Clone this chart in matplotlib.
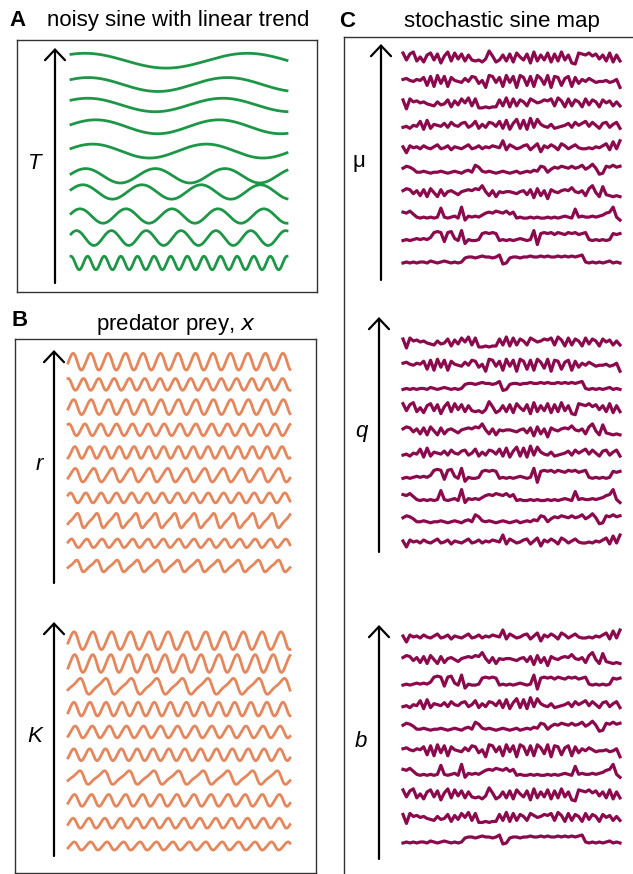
import numpy as np
import matplotlib.pyplot as plt

plt.rcParams['font.family'] = ['Liberation Sans', 'DejaVu Sans']

#%% data
# A: noisy sine with linear trend, rows top -> bottom
a_cycles = [1.33, 1.55, 1.6, 1.75, 1.9, 3.1, 3.65, 4.7, 6.2, 13.0]
a_phase = [0.164, 0.127, 0.126, 0.05, 0.06, 0.04, 0.05, 0.053, 0.09, 0.25]
a_amp = [0.33, 0.31, 0.3, 0.31, 0.31, 0.32, 0.32, 0.32, 0.33, 0.3]
a_mean = [0, -0.06, 0.03, 0.06, -0.02, -0.12, 0.16, 0.09, 0.11, 0]

# B: predator prey, x  (r rows then K rows, top -> bottom)
r_cycles = [12.7, 14.5, 12.7, 14.0, 15.0, 12.0, 14.5, 11.4, 14.5, 11.0]
r_phase = [0.97, 0.25, 0.95, 0.2, 0.8, 0.9, 0.1, 0.85, 0.05, 0.9]
r_amp = [0.37, 0.26, 0.33, 0.26, 0.26, 0.3, 0.22, 0.32, 0.19, 0.26]
r_skew = [0.1, 0.1, 0.15, 0.1, 0.1, 0.3, 0.1, 0.6, 0.2, 0.6]

k_cycles = [11.8, 12.3, 8.7, 13.8, 13.0, 14.0, 9.0, 13.0, 14.0, 13.5]
k_phase = [0.95, 0.9, 0.85, 0.9, 0.85, 0.9, 0.85, 0.9, 0.95, 0.9]
k_amp = [0.39, 0.39, 0.35, 0.3, 0.26, 0.26, 0.3, 0.26, 0.22, 0.18]
k_skew = [0.15, 0.15, 0.6, 0.1, 0.15, 0.1, 0.6, 0.2, 0.15, 0.2]

# C: stochastic sine map, 10 distinct runs (deviation in px, up = +)
s1 = [5, -2, 4, 6, -3, 1, -4, 3, 5, -2, 4, -5, 2, 6, -3, 5, -1, 4, -3, 3, -2, -3, -2, -4,
      -1, 7, 2, -4, -2, 3, -3, 4, -4, 5, 1, -2, 4, -5, 6, -3, 3, -2, 5, -4, 4, -3, 6, -2,
      3, -5, -6, 5, 4, 3, 5, 2, 4, -1, 3, -3, 5, -4, 3, -3]
s2 = [1, 2, 0, -1, 1, 0, 3, -5, 4, -6, 5, -3, 4, -6, 3, 0, -1, -2, 2, -1, 4, 3, -3, 0,
      -7, 5, 4, -2, 3, -6, 5, -2, 4, -7, 5, 3, -5, 4, -6, 5, 2, -4, 5, -7, 4, 3, -5, 2,
      4, -6, 3, -3, 1, -1, 2, 0, -2, -1, -1, 0, -2, -1, 1, -7]
s3 = [3, -6, 4, 1, 2, 0, 1, -1, -2, -3, 1, -2, -1, 3, -4, 2, -2, 4, 0, 5, -3, 4, -5, -5,
      -4, -5, -4, -4, 3, -3, 5, -4, 4, -3, 3, 1, -3, 4, 2, 0, 1, 3, 2, 4, -3, 5, 2, -4,
      4, -3, 3, 1, -4, 4, -2, 3, 1, -4, 3, 0, 2, -3, 1, -3]
s4 = [-2, -1, -3, 0, -1, 4, -4, 5, -3, 1, 0, -1, 2, -2, 3, 0, -1, 2, 3, -2, 0, 4, -3, 1,
      -2, 3, 2, -1, 4, -3, 5, -4, 2, 6, -3, 5, -4, 7, -2, 6, 1, -1, -2, 1, -3, -2, -1, 0,
      2, -2, 3, 0, 2, 4, -1, 3, 0, -3, 2, 3, -2, 1, 3, -3]
s5 = [1, -5, 2, 0, 1, -1, 2, 0, -1, 1, 3, -1, 0, 2, -2, 1, 0, -1, 1, 3, -1, 0, 2, -1,
      1, 0, 2, 1, 0, 7, -2, 3, 1, -1, 0, 2, 3, -2, 1, 4, -4, 2, 0, 3, 1, -2, 4, 2,
      -1, 1, 3, 0, -1, -1, 0, -1, 1, 0, 2, 4, -2, 6, -1, 7]
s6 = [2, 4, 3, 1, -2, -2, -1, -2, -3, -2, -2, -1, -2, -3, -2, -1, -2, -3, -1, 0, -2, 5, 3, -1,
      -2, -1, -2, -3, -2, -1, -2, -3, -2, -1, -3, -2, -1, -2, 0, -1, 4, 3, -2, 1, 3, 2, 4, 3,
      2, 4, 2, 3, 5, 1, 3, 6, 2, -4, -3, 4, 3, 5, 3, 4]
s7 = [2, 4, 3, -1, 2, -3, 3, -4, 4, 0, -4, 3, -3, 1, 2, 0, -2, 1, 2, 3, 2, 4, 3, 7,
      1, -3, 2, -4, 1, 0, 1, 1, 0, -1, 1, 2, -2, 3, -5, 4, -3, 2, -6, 3, 1, 0, 2, 3,
      2, 5, 1, 0, 2, -3, 4, 7, 0, -4, 6, -2, -3, -4, -3, -4]
s8 = [3, 2, 4, 1, -2, -3, -2, -3, -2, -3, -2, 7, -2, -3, -2, -1, -3, 8, -5, -1, -2, -1, -2, 0,
      2, 3, 2, 4, 3, 2, 4, 1, 3, -3, -2, -3, -3, -2, -3, -2, -3, -3, -2, -3, -2, -3, -2, -1,
      -2, -3, 6, -2, -1, -2, -2, -1, -2, -1, 0, 2, 3, 8, -2, -5]
s9 = [-3, -2, -3, -2, -1, -2, -1, -2, 0, 5, 6, 5, -4, 5, 6, -1, -3, 7, -6, -2, -3, -3, -2, 4,
      5, 4, 5, 4, -3, -2, -3, -2, -3, -2, -1, -2, -3, -2, 7, -7, 4, 5, 4, 5, 3, 5, 4, 3,
      5, 4, 5, 3, 4, 5, -2, -3, -2, -3, -2, -3, -2, 4, 3, 4]
s10 = [-3, -2, -3, -2, -3, -2, -2, -3, -1, -2, -3, -2, -1, -2, -3, -2, -3, -2,
       2, 3, 3, 2, 3, 4, 3, 3, 2, 3, 5, -4, -3,
       2, 3, 3, 2, 3, 3, 4, 3, 3, 4, 3, 4, 3, 3, 4, 3, 4, 3, 4, 3, 4, 5,
       -2, -3, -2, -3, -2, -3, -2, -1, -3, -2, -3]
runs = [s1, s2, s3, s4, s5, s6, s7, s8, s9, s10]
mu_order = [1, 2, 3, 4, 5, 6, 7, 8, 9, 10]
q_order = [3, 2, 10, 1, 7, 4, 9, 8, 6, 5]
b_order = [5, 7, 9, 4, 6, 2, 8, 1, 3, 10]

GREEN = '#1e9648'
ORANGE = '#e5875c'
MAROON = '#8a0a4d'
FRAME = '#333333'

#%% figure
W, H = 633, 874
fig = plt.figure(figsize=(W / 100, H / 100), dpi=100)


def fx(x):
    return x / W


def fy(y):
    return 1 - y / H


def frame(x0, y0, x1, y1, sides=('left', 'right', 'top', 'bottom')):
    ax = fig.add_axes([fx(x0), fy(y1), fx(x1 - x0), (y1 - y0) / H])
    ax.set_xticks([])
    ax.set_yticks([])
    ax.patch.set_alpha(0)
    for s in ax.spines:
        ax.spines[s].set_visible(s in sides)
        ax.spines[s].set_color(FRAME)
        ax.spines[s].set_linewidth(1.0)
    return ax


def rows_axes(x0, x1, ytop, ybot, n=10):
    # row k sits at y = -k; first row centred at ytop px, last at ybot px
    sp = (ybot - ytop) / (n - 1)
    ax = fig.add_axes([fx(x0), fy(ybot + sp), fx(x1 - x0), (ybot - ytop + 2 * sp) / H])
    ax.set_xlim(0, 1)
    ax.set_ylim(-n, 1)
    ax.axis('off')
    return ax, sp


def arrow(x, ytail, yhead):
    fig.add_artist(plt.Annotation('', xy=(fx(x), fy(yhead)), xytext=(fx(x), fy(ytail)),
                                  xycoords='figure fraction', textcoords='figure fraction',
                                  arrowprops=dict(arrowstyle='->,head_length=0.38,head_width=0.36',
                                                  lw=1.6, color='black', mutation_scale=20,
                                                  shrinkA=0, shrinkB=0)))


def label(x, y, s, **kw):
    fig.text(fx(x), fy(y), s, ha='center', va='baseline', fontsize=16, **kw)


# frames
frame(17, 40, 317, 292)
frame(15, 339, 316, 873)
frame(344, 37, 700, 950, sides=('left', 'top'))

# panel letters and titles
label(17, 26, 'A', fontweight='bold')
label(178, 26, 'noisy sine with linear trend')
label(20, 326, 'B', fontweight='bold')
label(176, 330, 'predator prey, $\\it{x}$')
label(347, 27, 'C', fontweight='bold')
label(502, 27, 'stochastic sine map')

# parameter arrows
arrow(55, 283, 48)
label(35, 169, 'T', style='italic')
arrow(54, 583, 350)
label(39, 470, 'r', style='italic')
arrow(54, 856, 622)
label(35, 742, 'K', style='italic')
arrow(381, 280, 44)
label(359, 167, 'μ')
arrow(379, 552, 317)
label(361, 437, 'q', style='italic')
arrow(379, 859, 625)
label(361, 747, 'b', style='italic')

# A
t = np.linspace(0, 1, 600)
ax, sp = rows_axes(71, 287, 60.7, 263)
for k in range(10):
    th = 2 * np.pi * (a_cycles[k] * t + a_phase[k])
    ax.plot(t, -k + a_mean[k] + a_amp[k] * np.sin(th), color=GREEN, lw=2, clip_on=False)


# B
def prey(ax, cyc, ph, amp, skew):
    for k in range(10):
        th = 2 * np.pi * (cyc[k] * t + ph[k])
        y = np.sin(th - skew[k] * np.sin(th))
        ax.plot(t, -k + amp[k] * y, color=ORANGE, lw=2, clip_on=False)


ax, sp = rows_axes(68, 290, 361.7, 566)
prey(ax, r_cycles, r_phase, r_amp, r_skew)
ax, sp = rows_axes(68, 290, 640.7, 846)
prey(ax, k_cycles, k_phase, k_amp, k_skew)

# C
tc = np.linspace(0, 1, len(s1))
for order, ytop, ybot in [(mu_order, 58, 260), (q_order, 342, 542), (b_order, 637, 840)]:
    ax, sp = rows_axes(403, 620, ytop, ybot)
    for k, idx in enumerate(order):
        vals = np.array(runs[idx - 1]) / sp
        ax.plot(tc, -k + vals, color=MAROON, lw=2.3, clip_on=False)

fig.savefig('out.png', dpi=100)
